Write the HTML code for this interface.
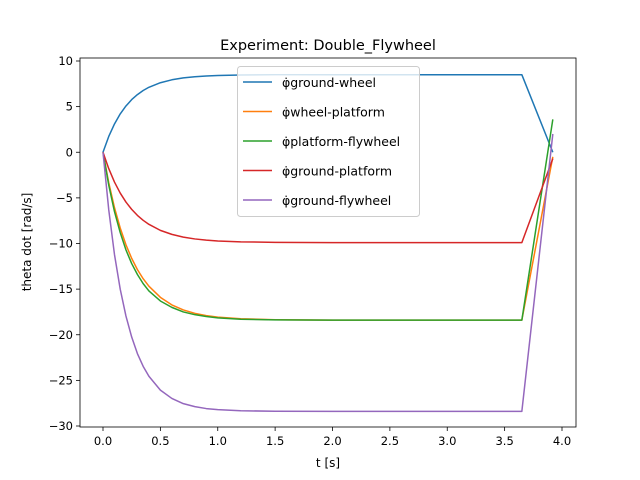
<!DOCTYPE html>
<html><head><meta charset="utf-8"><style>
body{margin:0;background:#fff}
svg{display:block;font-family:"DejaVu Sans","Liberation Sans",sans-serif}
</style></head><body>
<svg id="c" width="640" height="480"></svg>
<script>
const times=[0,0.05,0.1,0.15,0.2,0.25,0.3,0.35,0.4,0.5,0.6,0.7,0.8,0.9,1.0,1.2,1.5,2,3,3.65,3.92];
const groundWheel=[0,1.73,3.1,4.2,5.07,5.77,6.32,6.77,7.12,7.62,7.94,8.15,8.28,8.36,8.41,8.46,8.5,8.5,8.5,8.5,0];
const wheelPlatform=[0,-3.33,-6.07,-8.3,-10.14,-11.63,-12.86,-13.86,-14.68,-15.9,-16.73,-17.28,-17.65,-17.9,-18.07,-18.25,-18.35,-18.4,-18.4,-18.4,-0.5];
const platformFlywheel=[0,-3.6,-6.5,-8.8,-10.7,-12.2,-13.4,-14.4,-15.2,-16.3,-17.0,-17.5,-17.8,-18.0,-18.15,-18.3,-18.37,-18.4,-18.4,-18.4,3.6];
const groundPlatform=[0,-1.79,-3.27,-4.47,-5.46,-6.26,-6.92,-7.46,-7.9,-8.56,-9.0,-9.3,-9.5,-9.63,-9.72,-9.82,-9.87,-9.9,-9.9,-9.9,-0.7];
const groundFlywheel=[0,-6.3,-11.2,-15.0,-17.95,-20.25,-22.07,-23.46,-24.55,-26.07,-26.98,-27.55,-27.88,-28.09,-28.2,-28.33,-28.38,-28.4,-28.4,-28.4,2.0];
const seriesNames=["ground-wheel","wheel-platform","platform-flywheel","ground-platform","ground-flywheel"];
const xTicks=[0,0.5,1,1.5,2,2.5,3,3.5,4];
const yTicks=[10,5,0,-5,-10,-15,-20,-25,-30];
const colors=["#1f77b4","#ff7f0e","#2ca02c","#d62728","#9467bd"];
const allSeries=[groundWheel,wheelPlatform,platformFlywheel,groundPlatform,groundFlywheel];
const svg=document.getElementById('c');
const NS='http://www.w3.org/2000/svg';
const L=80,R=576,T=58,B=427;
function X(v){return 103+v*114.75;}
function Y(v){return 61+(10-v)*9.125;}
function mk(t,a,p){const e=document.createElementNS(NS,t);for(const k in a)e.setAttribute(k,a[k]);(p||svg).appendChild(e);return e;}
let e=mk('text',{x:328,y:50,'font-size':14.5,'text-anchor':'middle'});e.textContent='Experiment: Double_Flywheel';


xTicks.forEach(v=>{mk('line',{x1:X(v),x2:X(v),y1:B,y2:B+4,stroke:'#000','stroke-width':0.8});
 const t=mk('text',{x:X(v),y:B+18,'font-size':11.5,'text-anchor':'middle'});t.textContent=v.toFixed(1);
 
 });
yTicks.forEach(v=>{mk('line',{x1:L-4,x2:L,y1:Y(v),y2:Y(v),stroke:'#000','stroke-width':0.8});
 const t=mk('text',{x:L-7,y:Y(v)+4,'font-size':11.5,'text-anchor':'end'});t.textContent=v.toString().replace('-','−');
 
 });
e=mk('text',{x:328,y:467,'font-size':12,'text-anchor':'middle'});e.textContent='t [s]';


e=mk('text',{x:31,y:242,'font-size':12,'text-anchor':'middle',transform:'rotate(-90 31 242)'});e.textContent='theta dot [rad/s]';


allSeries.forEach((s,i)=>{const p=mk('polyline',{points:s.map((v,j)=>X(times[j])+','+Y(v)).join(' '),fill:'none',stroke:colors[i],'stroke-width':1.5,'stroke-linejoin':'round'});
 
 });
e=mk('rect',{x:L,y:T,width:R-L,height:B-T,fill:'none',stroke:'#000','stroke-width':0.8});


const lg=mk('g',{});


mk('rect',{x:237.5,y:66.5,width:182,height:150,rx:3,fill:'#fff','fill-opacity':0.8,stroke:'#ccc'},lg);
seriesNames.forEach((n,i)=>{const y=82+i*29.5;
 mk('line',{x1:243,x2:272,y1:y,y2:y,stroke:colors[i],'stroke-width':1.5},lg);
 const t=mk('text',{x:282,y:y+5,'font-size':12.5},lg);t.textContent='φ̇'+n;
 
 });
</script>
</body></html>
